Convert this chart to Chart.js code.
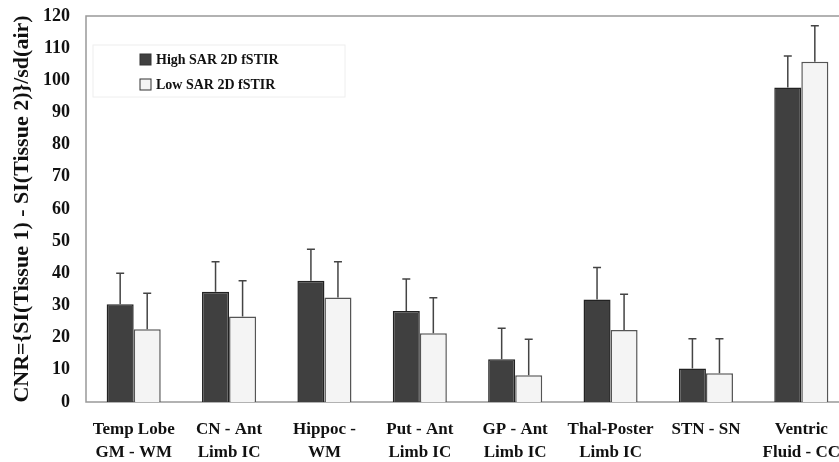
<!DOCTYPE html>
<html>
<head>
<meta charset="utf-8">
<script src="https://cdn.jsdelivr.net/npm/chart.js@4/dist/chart.umd.min.js"></script>
<style>
  html, body { margin: 0; padding: 0; background: #fff; overflow: hidden; }
  #wrap { width: 839px; height: 462px; overflow: hidden; }
</style>
</head>
<body>
<div id="wrap"><canvas id="cnrChart" width="870" height="462"></canvas></div>
<script>
// categories (two-line labels)
const regions = [
  ['Temp Lobe', 'GM - WM'],
  ['CN - Ant', 'Limb IC'],
  ['Hippoc -', 'WM'],
  ['Put - Ant', 'Limb IC'],
  ['GP - Ant', 'Limb IC'],
  ['Thal-Poster', 'Limb IC'],
  ['STN - SN', ''],
  ['Ventric', 'Fluid - CC']
];

const highSar = [30.4, 34.3, 37.7, 28.3, 13.3, 31.9, 10.4, 97.8];
const highSarErr = [9.6, 9.3, 9.8, 9.9, 9.6, 9.9, 9.3, 9.8];
const lowSar = [22.6, 26.6, 32.5, 21.4, 8.3, 22.4, 8.9, 105.8];
const lowSarErr = [11.2, 11.1, 11.1, 11.0, 11.2, 11.1, 10.8, 11.2];

const yTicks = [0, 10, 20, 30, 40, 50, 60, 70, 80, 90, 100, 110, 120];

const serif = "'Liberation Serif', 'Times New Roman', serif";

// upper error bars only, with a small cap
const errorBars = {
  id: 'errorBars',
  afterDatasetsDraw(chart) {
    const ctx = chart.ctx;
    const y = chart.scales.y;
    ctx.save();
    ctx.strokeStyle = '#444';
    ctx.lineWidth = 1.5;
    chart.data.datasets.forEach((ds, i) => {
      const meta = chart.getDatasetMeta(i);
      meta.data.forEach((bar, j) => {
        const top = y.getPixelForValue(ds.data[j] + ds.errors[j]);
        ctx.beginPath();
        ctx.moveTo(bar.x, bar.y);
        ctx.lineTo(bar.x, top);
        ctx.moveTo(bar.x - 4, top);
        ctx.lineTo(bar.x + 4, top);
        ctx.stroke();
      });
    });
    ctx.restore();
  }
};

// plot box + legend inside top-left
const frameAndLegend = {
  id: 'frameAndLegend',
  beforeDatasetsDraw(chart) {
    const { ctx, chartArea: a } = chart;
    ctx.save();
    ctx.strokeStyle = '#999';
    ctx.lineWidth = 1.5;
    ctx.strokeRect(a.left, a.top, a.right - a.left, a.bottom - a.top);
    ctx.restore();
  },
  afterDatasetsDraw(chart) {
    const { ctx, chartArea: a } = chart;
    ctx.save();
    ctx.strokeStyle = '#eeeeee';
    ctx.lineWidth = 1;
    ctx.strokeRect(a.left + 7, a.top + 29, 252, 52);
    ctx.font = 'bold 14px ' + serif;
    ctx.textBaseline = 'middle';
    chart.data.datasets.forEach((ds, i) => {
      const ly = a.top + 44 + i * 25;
      ctx.fillStyle = ds.backgroundColor;
      ctx.fillRect(a.left + 54, ly - 6, 11, 11);
      ctx.strokeStyle = '#333';
      ctx.strokeRect(a.left + 54, ly - 6, 11, 11);
      ctx.fillStyle = '#111';
      ctx.fillText(ds.label, a.left + 70, ly);
    });
    ctx.restore();
  }
};

new Chart(document.getElementById('cnrChart'), {
  type: 'bar',
  data: {
    labels: regions,
    datasets: [
      {
        label: 'High SAR 2D fSTIR',
        data: highSar,
        errors: highSarErr,
        backgroundColor: '#404040',
        borderColor: '#222',
        borderWidth: 1.5
      },
      {
        label: 'Low SAR 2D fSTIR',
        data: lowSar,
        errors: lowSarErr,
        backgroundColor: '#f4f4f4',
        borderColor: '#555',
        borderWidth: 1.5
      }
    ]
  },
  options: {
    responsive: false,
    animation: false,
    layout: { padding: { top: 16, right: 21, left: 0, bottom: 0 } },
    plugins: {
      legend: { display: false },
      tooltip: { enabled: false }
    },
    datasets: {
      bar: { categoryPercentage: 0.567, barPercentage: 1.0 }
    },
    scales: {
      x: {
        grid: { display: false, drawTicks: false },
        border: { display: false },
        ticks: {
          color: '#111',
          padding: 17,
          maxRotation: 0,
          autoSkip: false,
          font: { family: serif, size: 17, weight: 'bold', lineHeight: 1.3 }
        },
        afterFit(scale) { scale.height = 60; }
      },
      y: {
        min: 0,
        max: 120,
        afterBuildTicks(scale) { scale.ticks = yTicks.map(v => ({ value: v })); },
        grid: { display: false, drawTicks: false },
        border: { display: false },
        ticks: {
          color: '#111',
          padding: 16,
          font: { family: serif, size: 18, weight: 'bold' }
        },
        title: {
          display: true,
          text: 'CNR={SI(Tissue 1) - SI(Tissue 2)}/sd(air)',
          color: '#111',
          padding: { top: 9, bottom: 0 },
          font: { family: serif, size: 22, weight: 'bold' }
        },
        afterFit(scale) {
          scale.width = 86;
          scale.paddingTop = 0;
          scale.paddingBottom = 0;
        }
      }
    }
  },
  plugins: [frameAndLegend, errorBars]
});
</script>
</body>
</html>
